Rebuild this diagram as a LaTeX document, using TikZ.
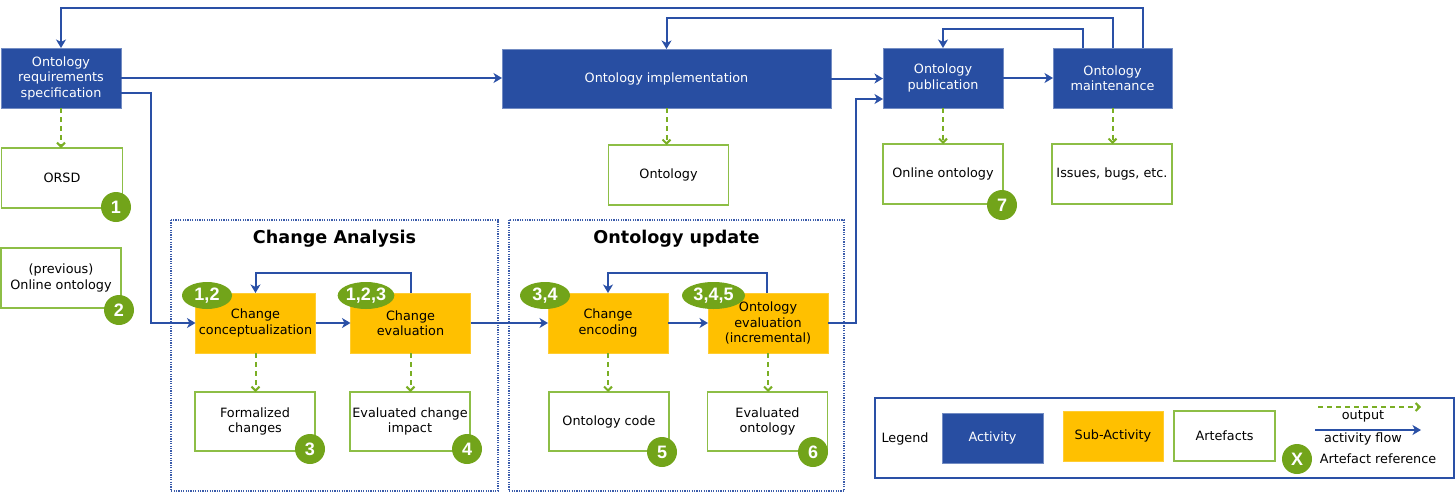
\documentclass[tikz,border=0pt]{standalone}
\usepackage{fontspec}
\setmainfont{DejaVu Sans}
\newfontfamily\badgefont{Liberation Sans}
\usetikzlibrary{arrows.meta,shapes.geometric,calc}
\definecolor{actblue}{RGB}{40,78,162}
\definecolor{lineblue}{RGB}{42,80,166}
\definecolor{subor}{RGB}{255,192,0}
\definecolor{badgegreen}{RGB}{114,164,26}
\definecolor{artgreen}{RGB}{141,190,70}
\definecolor{outgreen}{RGB}{122,174,36}
\definecolor{grpblue}{RGB}{58,91,170}
\tikzset{
  base/.style={font=\fontsize{9.6}{11.6}\selectfont, align=center, inner sep=1pt, outer sep=0pt},
  activity/.style={base, fill=actblue, draw=actblue!65!white, line width=0.6pt, text=white},
  subact/.style={base, fill=subor, draw=subor!80!white, line width=0.6pt, text=black},
  artefact/.style={base, fill=white, draw=artgreen, line width=1pt, text=black},
  badge/.style={circle, fill=badgegreen, text=white, minimum size=22.5pt, inner sep=0pt, font=\badgefont\bfseries\fontsize{13.5}{13.5}\selectfont},
  ebadge/.style={ellipse, fill=badgegreen, text=white, minimum height=20.25pt, inner sep=0pt, font=\badgefont\bfseries\fontsize{13.5}{13.5}\selectfont},
  flow/.style={draw=lineblue, line width=1.5pt, -{Stealth[length=6.4pt, width=7.5pt, inset=1.9pt]}},
  output/.style={draw=outgreen, line width=1.5pt, dash pattern=on 3.75pt off 3pt, -{Straight Barb[length=3pt, width=6pt]}},
  group/.style={draw=grpblue, line width=1.2pt, dash pattern=on 0.9pt off 0.9pt},
  grouptitle/.style={font=\bfseries\fontsize{13.2}{15}\selectfont, text=black},
  plain/.style={font=\fontsize{9.6}{11.6}\selectfont, text=black, inner sep=0pt}
}
\begin{document}
\begin{tikzpicture}[x=0.75pt, y=-0.75pt]
\useasboundingbox (0,0) rectangle (1456,493);

% groups
\draw[group] (171,220) rectangle (498,491);
\draw[group] (509,220) rectangle (844,491);
\node[grouptitle] (tca) at (334.5,239) {Change Analysis};
\node[grouptitle] (tou) at (676.5,239) {Ontology update};

% activities
\node[activity, minimum width=90pt, minimum height=45pt] (ors) at (61,78) {Ontology\\requirements\\specification};
\node[activity, minimum width=246.75pt, minimum height=44.25pt] (impl) at (666.5,78.5) {Ontology implementation};
\node[activity, minimum width=90pt, minimum height=45pt] (pub) at (943,78) {Ontology\\publication};
\node[activity, minimum width=89.25pt, minimum height=45pt] (mnt) at (1112.5,78) {Ontology\\maintenance};

% artefacts top
\node[artefact, minimum width=90.75pt, minimum height=45pt] (orsd) at (62,178) {ORSD};
\node[artefact, minimum width=90pt, minimum height=45pt] (prev) at (61,278) {(previous)\\Online ontology};
\node[artefact, minimum width=90pt, minimum height=45pt] (ont) at (668.5,175) {Ontology};
\node[artefact, minimum width=90pt, minimum height=45pt] (onl) at (943,174) {Online ontology};
\node[artefact, minimum width=90pt, minimum height=45pt] (iss) at (1112,174) {Issues, bugs, etc.};

% sub-activities
\node[subact, minimum width=90pt, minimum height=45pt] (cc) at (255.5,323) {Change\\conceptualization};
\node[subact, minimum width=90pt, minimum height=45pt] (ce) at (410.5,323) {Change\\evaluation};
\node[subact, minimum width=90pt, minimum height=45pt] (enc) at (608,323) {Change\\encoding};
\node[subact, minimum width=90pt, minimum height=45pt] (oev) at (768,323) {Ontology\\evaluation\\(incremental)};

% artefacts bottom
\node[artefact, minimum width=90pt, minimum height=44.25pt] (fc) at (255,421.5) {Formalized\\changes};
\node[artefact, minimum width=90pt, minimum height=44.25pt] (eci) at (410,421.5) {Evaluated change\\impact};
\node[artefact, minimum width=90pt, minimum height=44.25pt] (oc) at (609,421.5) {Ontology code};
\node[artefact, minimum width=90pt, minimum height=44.25pt] (eo) at (767.5,421.5) {Evaluated\\ontology};

% activity flow connectors
\draw[flow] ($(mnt.north)+(30.5,0)$) -- ++(0,-40) -| (ors.north);
\draw[flow] ($(mnt.north)+(0.5,0)$) -- ++(0,-30) -| (impl.north);
\draw[flow] ($(mnt.north)+(-29.5,0)$) -- ++(0,-19) -| (pub.north);
\draw[flow] (ors.east) -- (ors.east -| impl.west);
\draw[flow] ($(ors.east)+(0,15)$) -- ++(30,0) |- (cc.west);
\draw[flow] (impl.east) -- (impl.east -| pub.west);
\draw[flow] (oev.east) -- ++(28,0) |- ($(pub.west)+(0,21)$);
\draw[flow] (pub.east) -- (mnt.west);
\draw[flow] (cc.east) -- (ce.west);
\draw[flow] (ce.east) -- (enc.west);
\draw[flow] (enc.east) -- (oev.west);
\draw[flow] ($(ce.north)+(0.5,0)$) -- ++(0,-20) -| (cc.north);
\draw[flow] ($(oev.north)+(-1,0)$) -- ++(0,-20) -| (enc.north);

% outputs
\draw[output] (ors.south) -- (ors.south |- orsd.north);
\draw[output] (impl.south) -- (impl.south |- ont.north);
\draw[output] (pub.south) -- (onl.north);
\draw[output] (mnt.south) -- (mnt.south |- iss.north);
\draw[output] (cc.south) -- (cc.south |- fc.north);
\draw[output] (ce.south) -- (ce.south |- eci.north);
\draw[output] (enc.south) -- (enc.south |- oc.north);
\draw[output] (oev.south) -- (oev.south |- eo.north);

% badges
\node[badge] (b1) at (116,207) {1};
\node[badge] (b2) at (119,310) {2};
\node[badge] (b3) at (310,449) {3};
\node[badge] (b4) at (467,449) {4};
\node[badge] (b5) at (662,452) {5};
\node[badge] (b6) at (813,452) {6};
\node[badge] (b7) at (1002,205) {7};
\node[ebadge, minimum width=37.5pt] (e12) at (207,295.5) {1,2};
\node[ebadge, minimum width=36pt] (e123) at (366,295.5) {1,2,3};
\node[ebadge, minimum width=37.5pt] (e34) at (545,295.5) {3,4};
\node[ebadge, minimum width=47.25pt] (e345) at (713.5,295.5) {3,4,5};

% legend
\draw[draw=lineblue, line width=1pt] (875,398) rectangle (1454,478);
\node[plain] (lg) at (905,439) {Legend};
\node[activity, minimum width=75.75pt, minimum height=37.5pt] (lact) at (992.5,438) {Activity};
\node[subact, minimum width=75pt, minimum height=37.5pt] (lsub) at (1113,436) {Sub-Activity};
\node[artefact, minimum width=75.75pt, minimum height=37.5pt] (lart) at (1224.5,436) {Artefacts};
\coordinate (o1) at (1318,407);
\coordinate (o2) at (1421,407);
\coordinate (f1) at (1315,430);
\coordinate (f2) at (1421,430);
\draw[output] (o1) -- (o2);
\draw[flow] (f1) -- (f2);
\node[plain] (lout) at (1363,416) {output};
\node[plain] (lflow) at (1363,439) {activity flow};
\node[badge] (lx) at (1297,459) {X};
\node[plain] (lref) at (1378,459) {Artefact reference};
\end{tikzpicture}
\end{document}
